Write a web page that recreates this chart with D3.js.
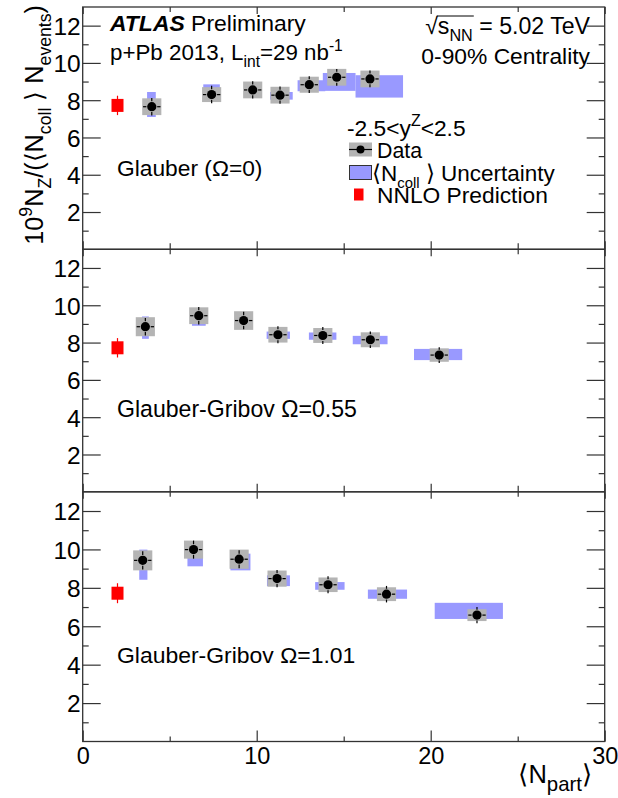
<!DOCTYPE html>
<html><head><meta charset="utf-8">
<script src="https://cdn.jsdelivr.net/npm/d3@7"></script>
<style>
body{margin:0;background:#fff}
svg{display:block}
text{font-family:"Liberation Sans",Arial,Helvetica,sans-serif;fill:#000}
</style>
</head><body>
<svg id="c" width="618" height="798"></svg>
<script>
// ---------------- data ----------------
const panelLabels = ["Glauber (Ω=0)", "Glauber-Gribov Ω=0.55", "Glauber-Gribov Ω=1.01"];
const xTicks = [0, 10, 20, 30];
const xMinorTicks = [5, 15, 25];
const xTickLabels = ["0", "10", "20", "30"];
const yTicks = [2, 4, 6, 8, 10, 12];
const yMinorTicks = [1, 3, 5, 7, 9, 11];
const yTickLabels = ["2", "4", "6", "8", "10", "12"];

const nnloNpart = 2.0;
const nnloValue = 7.72;
const nnloErr = 0.52;

// Panel 1: Glauber (Omega = 0)
const npart0 = [3.97, 7.41, 9.77, 11.34, 13.02, 14.60, 16.51];
const yield0 = [7.65, 8.30, 8.55, 8.27, 8.83, 9.23, 9.14];
const sys0   = [0.45, 0.40, 0.45, 0.45, 0.43, 0.45, 0.45];
const stat0  = [0.47, 0.47, 0.46, 0.46, 0.45, 0.45, 0.45];
const ncollLo0 = [7.10, 8.00, 8.30, 8.03, 8.48, 8.50, 8.14];
const ncollHi0 = [8.44, 8.85, 8.80, 8.44, 9.07, 9.46, 9.34];
const npartLo0 = [3.70, 6.93, 9.40, 10.77, 12.35, 13.80, 15.68];
const npartHi0 = [4.20, 7.88, 10.10, 12.07, 13.94, 15.68, 18.41];

// Panel 2: Glauber-Gribov Omega = 0.55
const npart1 = [3.60, 6.67, 9.25, 11.22, 13.80, 16.53, 20.49];
const yield1 = [8.85, 9.44, 9.18, 8.42, 8.38, 8.15, 7.33];
const sys1   = [0.51, 0.45, 0.50, 0.42, 0.40, 0.40, 0.36];
const stat1  = [0.47, 0.47, 0.47, 0.45, 0.45, 0.44, 0.42];
const ncollLo1 = [8.20, 8.90, 8.75, 8.20, 8.15, 7.91, 7.06];
const ncollHi1 = [9.40, 9.76, 9.55, 8.59, 8.54, 8.36, 7.66];
const npartLo1 = [3.41, 6.28, 8.95, 10.57, 13.00, 15.52, 19.04];
const npartHi1 = [3.80, 7.07, 9.55, 11.91, 14.58, 17.52, 21.81];

// Panel 3: Glauber-Gribov Omega = 1.01
const npart2 = [3.45, 6.37, 8.99, 11.17, 14.10, 17.46, 22.66];
const yield2 = [9.43, 9.99, 9.49, 8.48, 8.16, 7.67, 6.58];
const sys2   = [0.52, 0.47, 0.50, 0.42, 0.38, 0.36, 0.31];
const stat2  = [0.47, 0.47, 0.47, 0.45, 0.44, 0.43, 0.42];
const ncollLo2 = [8.42, 9.12, 8.91, 8.09, 7.90, 7.43, 6.38];
const ncollHi2 = [9.99, 10.39, 9.78, 8.65, 8.30, 7.91, 7.22];
const npartLo2 = [3.25, 6.02, 8.49, 10.59, 13.36, 16.39, 20.23];
const npartHi2 = [3.72, 6.91, 9.64, 11.91, 15.05, 18.64, 24.15];

const legendEntries = ["Data", "Ncoll", "NNLO Prediction"];

// ---------------- layout ----------------
const W = 618, H = 798;
const FS = 22.5;
const frameL = 82.7, frameR = 604.7;
const panelTop = [7, 249.3, 491.8];
const panelBot = [249.3, 491.8, 741.5];
const GRAY = "#b4b4b4", BLUE = "#9999ff", RED = "#ff0000", AX = "#333";
const boxHalfW = 0.55, xErr = 0.5, markerR = 4.6;

const svg = d3.select("#c");
svg.append("rect").attr("width", W).attr("height", H).attr("fill", "#fff");

const x = d3.scaleLinear().domain([0, 30]).range([frameL, frameR]);

const panels = [
  {label: panelLabels[0], np: npart0, v: yield0, sys: sys0, st: stat0, cLo: ncollLo0, cHi: ncollHi0, nLo: npartLo0, nHi: npartHi0},
  {label: panelLabels[1], np: npart1, v: yield1, sys: sys1, st: stat1, cLo: ncollLo1, cHi: ncollHi1, nLo: npartLo1, nHi: npartHi1},
  {label: panelLabels[2], np: npart2, v: yield2, sys: sys2, st: stat2, cLo: ncollLo2, cHi: ncollHi2, nLo: npartLo2, nHi: npartHi2}
];

// rich text with sub/superscripts; optional width fitting
function rich(sel, parts, fs, target, subScale) {
  const ss = subScale || 0.7;
  const draw = f => {
    sel.selectAll("tspan").remove();
    let cur = 0;
    parts.forEach(p => {
      const shift = p.sub ? f * 0.32 : p.sup ? -f * 0.42 : 0;
      const ts = sel.append("tspan").attr("dy", shift - cur)
        .attr("font-size", (p.sub || p.sup) ? f * ss : f).text(p.t);
      if (p.bold) ts.attr("font-weight", "bold");
      if (p.italic) ts.attr("font-style", "italic");
      cur = shift;
    });
  };
  draw(fs);
  if (target) {
    const w = sel.node().getComputedTextLength();
    if (w > 0) draw(fs * target / w);
  }
  return sel;
}

function styleAxis(g) {
  g.select(".domain").remove();
  g.selectAll(".tick line").attr("stroke", AX).attr("stroke-width", 1.2);
  g.selectAll("text").attr("font-family", '"Liberation Sans",Arial,sans-serif').attr("fill", "#000");
}

const labelPos = [[117, 176, 145.5], [117, 417, 240], [117, 663, 238.5]];

panels.forEach((P, pi) => {
  const y = d3.scaleLinear().domain([0, 13]).range([panelBot[pi], panelTop[pi]]);
  const g = svg.append("g");
  const idx = d3.range(P.np.length);

  // Ncoll uncertainty boxes
  g.selectAll("rect.nc").data(idx).join("rect").attr("class", "nc")
    .attr("x", i => x(P.nLo[i])).attr("width", i => x(P.nHi[i]) - x(P.nLo[i]))
    .attr("y", i => y(P.cHi[i])).attr("height", i => y(P.cLo[i]) - y(P.cHi[i]))
    .attr("fill", BLUE);
  // systematic boxes
  g.selectAll("rect.sy").data(idx).join("rect").attr("class", "sy")
    .attr("x", i => x(P.np[i] - boxHalfW)).attr("width", i => x(P.np[i] + boxHalfW) - x(P.np[i] - boxHalfW))
    .attr("y", i => y(P.v[i] + P.sys[i])).attr("height", i => y(P.v[i] - P.sys[i]) - y(P.v[i] + P.sys[i]))
    .attr("fill", GRAY);
  // error bars (with gap around marker)
  idx.forEach(i => {
    const cx = x(P.np[i]), cy = y(P.v[i]);
    const gap = markerR + 0.8;
    const segs = [
      [cx, cy - gap, cx, y(P.v[i] + P.st[i])],
      [cx, cy + gap, cx, y(P.v[i] - P.st[i])],
      [cx - gap, cy, x(P.np[i] - xErr), cy],
      [cx + gap, cy, x(P.np[i] + xErr), cy]
    ];
    segs.forEach(s => g.append("line").attr("x1", s[0]).attr("y1", s[1]).attr("x2", s[2]).attr("y2", s[3])
      .attr("stroke", "#000").attr("stroke-width", 1.2));
  });
  g.selectAll("circle.pt").data(idx).join("circle").attr("class", "pt")
    .attr("cx", i => x(P.np[i])).attr("cy", i => y(P.v[i])).attr("r", markerR).attr("fill", "#000");

  // NNLO prediction
  g.append("line").attr("x1", x(nnloNpart)).attr("x2", x(nnloNpart))
    .attr("y1", y(nnloValue + nnloErr)).attr("y2", y(nnloValue - nnloErr))
    .attr("stroke", RED).attr("stroke-width", 1.2);
  g.append("rect").attr("x", x(nnloNpart) - 6).attr("y", y(nnloValue) - 6.5)
    .attr("width", 12).attr("height", 13).attr("fill", RED);

  // axes
  const left = g.append("g").attr("transform", `translate(${frameL},0)`)
    .call(d3.axisLeft(y).tickValues(yTicks).tickSizeInner(-18).tickSizeOuter(0).tickPadding(2)
      .tickFormat((d, k) => yTickLabels[k]));
  styleAxis(left);
  left.selectAll("text").attr("font-size", 24.5).attr("dy", "0.36em");
  const leftMin = g.append("g").attr("transform", `translate(${frameL},0)`)
    .call(d3.axisLeft(y).tickValues(yMinorTicks).tickSizeInner(-6).tickSizeOuter(0).tickFormat(""));
  styleAxis(leftMin);
  const right = g.append("g").attr("transform", `translate(${frameR},0)`)
    .call(d3.axisRight(y).tickValues(yTicks).tickSizeInner(-18).tickSizeOuter(0).tickFormat(""));
  styleAxis(right);
  const rightMin = g.append("g").attr("transform", `translate(${frameR},0)`)
    .call(d3.axisRight(y).tickValues(yMinorTicks).tickSizeInner(-6).tickSizeOuter(0).tickFormat(""));
  styleAxis(rightMin);

  const isBottom = pi === 2;
  const bot = g.append("g").attr("transform", `translate(0,${panelBot[pi]})`)
    .call(d3.axisBottom(x).tickValues(xTicks).tickSizeInner(isBottom ? -11 : -8).tickSizeOuter(0).tickPadding(5.5)
      .tickFormat((d, k) => isBottom ? xTickLabels[k] : ""));
  styleAxis(bot);
  bot.selectAll("text").attr("font-size", 23.5);
  const botMin = g.append("g").attr("transform", `translate(0,${panelBot[pi]})`)
    .call(d3.axisBottom(x).tickValues(xMinorTicks).tickSizeInner(isBottom ? -5 : -6).tickSizeOuter(0).tickFormat(""));
  styleAxis(botMin);
  const top = g.append("g").attr("transform", `translate(0,${panelTop[pi]})`)
    .call(d3.axisTop(x).tickValues(xTicks).tickSizeInner(-7).tickSizeOuter(0).tickFormat(""));
  styleAxis(top);
  const topMin = g.append("g").attr("transform", `translate(0,${panelTop[pi]})`)
    .call(d3.axisTop(x).tickValues(xMinorTicks).tickSizeInner(-5).tickSizeOuter(0).tickFormat(""));
  styleAxis(topMin);

  // frame
  g.append("rect").attr("x", frameL).attr("y", panelTop[pi])
    .attr("width", frameR - frameL).attr("height", panelBot[pi] - panelTop[pi])
    .attr("fill", "none").attr("stroke", AX).attr("stroke-width", 1.3);

  // panel label
  const lp = labelPos[pi];
  rich(g.append("text").attr("x", lp[0]).attr("y", lp[1]), [{t: P.label}], FS, lp[2]);
});

// ---------------- header texts ----------------
rich(svg.append("text").attr("x", 110).attr("y", 31),
  [{t: "ATLAS", bold: true, italic: true}, {t: " Preliminary"}], FS, 196);

rich(svg.append("text").attr("x", 110).attr("y", 60),
  [{t: "p+Pb 2013, L"}, {t: "int", sub: true}, {t: "=29 nb"}, {t: "-1", sup: true}], FS, 233);

const t3 = svg.append("text").attr("x", 590).attr("y", 34).attr("text-anchor", "end");
rich(t3, [{t: "√"}, {t: "s"}, {t: "NN", sub: true}, {t: " = 5.02 TeV"}], FS, 165);
{
  const n = t3.node();
  const xs = n.getStartPositionOfChar(1).x - 1;
  const xe = n.getEndPositionOfChar(3).x + 1;
  svg.append("line").attr("x1", xs).attr("x2", xe).attr("y1", 34 - FS * 0.8).attr("y2", 34 - FS * 0.8)
    .attr("stroke", "#000").attr("stroke-width", 1);
}
rich(svg.append("text").attr("x", 590).attr("y", 64).attr("text-anchor", "end"),
  [{t: "0-90% Centrality"}], FS, 168.7);

// ---------------- legend ----------------
const lg = svg.append("g");
rich(lg.append("text").attr("x", 347).attr("y", 136), [{t: "-2.5<y"}, {t: "Z", sup: true}, {t: "<2.5"}], FS, 118.7);
// Data entry
lg.append("rect").attr("x", 349).attr("y", 142.5).attr("width", 23).attr("height", 14).attr("fill", GRAY);
lg.append("line").attr("x1", 349).attr("x2", 372).attr("y1", 149.5).attr("y2", 149.5).attr("stroke", "#000").attr("stroke-width", 1.2);
lg.append("circle").attr("cx", 360.5).attr("cy", 149.5).attr("r", 4).attr("fill", "#000");
rich(lg.append("text").attr("x", 377).attr("y", 158), [{t: legendEntries[0]}], FS, 45);
// Ncoll entry
lg.append("rect").attr("x", 349.5).attr("y", 165.5).attr("width", 22).attr("height", 14).attr("fill", BLUE).attr("stroke", "#333").attr("stroke-width", 1);
rich(lg.append("text").attr("x", 372).attr("y", 180.5),
  [{t: "⟨N"}, {t: "coll", sub: true}, {t: " ⟩ Uncertainty"}], FS, 183, 0.66);
// NNLO entry
lg.append("rect").attr("x", 354).attr("y", 188.5).attr("width", 9.5).attr("height", 12).attr("fill", RED);
rich(lg.append("text").attr("x", 377).attr("y", 202.5), [{t: legendEntries[2]}], FS, 171);

// ---------------- axis titles ----------------
const yt = svg.append("text").attr("text-anchor", "end")
  .attr("transform", "translate(43,5) rotate(-90)");
rich(yt, [{t: "10"}, {t: "9", sup: true}, {t: "N"}, {t: "Z", sub: true}, {t: "/(⟨N"}, {t: "coll", sub: true},
  {t: " ⟩ N"}, {t: "events", sub: true}, {t: ")"}], 25, 240);

const xt = svg.append("text").attr("x", 592).attr("y", 783).attr("text-anchor", "end");
rich(xt, [{t: "⟨N"}, {t: "part", sub: true}, {t: "⟩"}], 25, 74, 0.8);
</script>
</body></html>
